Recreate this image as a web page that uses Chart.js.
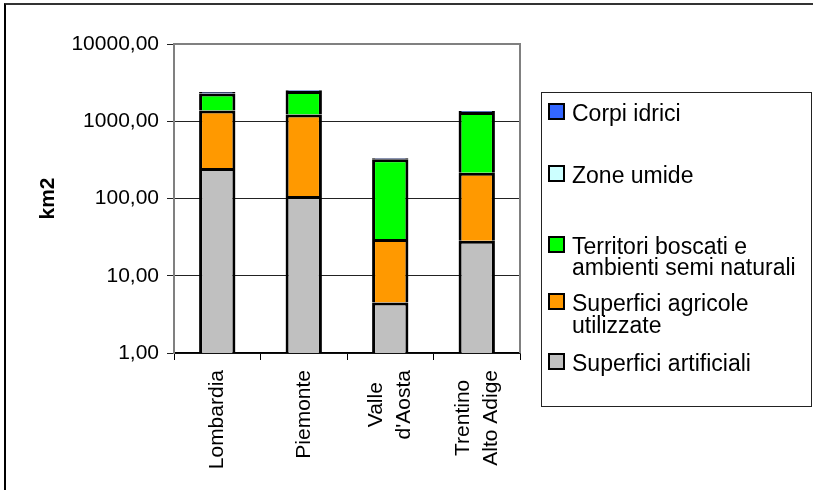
<!DOCTYPE html>
<html>
<head>
<meta charset="utf-8">
<script src="https://cdn.jsdelivr.net/npm/chart.js@4.4.1/dist/chart.umd.min.js"></script>
<style>
  html, body { margin: 0; padding: 0; background: #fff; overflow: hidden; }
  #wrap { position: relative; width: 813px; height: 490px; }
  #frame { position: absolute; left: 4px; top: 3px; width: 900px; height: 600px;
           border-left: 2px solid #000; border-top: 2px solid #333; }
  canvas { position: absolute; left: 0; top: 0; }
</style>
</head>
<body>
<div id="wrap">
  <div id="frame"></div>
  <canvas id="myChart" width="813" height="490"></canvas>
</div>
<script>
const regioni = ["Lombardia", "Piemonte", ["Valle", "d'Aosta"], ["Trentino", "Alto Adige"]];
const serie = [
  ["Superfici artificiali"],
  ["Superfici agricole", "utilizzate"],
  ["Territori boscati e", "ambienti semi naturali"],
  ["Zone umide"],
  ["Corpi idrici"],
];
const superficiArtificiali = [249, 108, 4.5, 28.4];
const superficiAgricole = [1131, 1117, 25.3, 187];
const territoriBoscati = [910, 1245, 293, 1105];
const zoneUmide = [4, 2, 0.5, 1];
const corpiIdrici = [90, 40, 8, 40];
const yTicks = [1, 10, 100, 1000, 10000];

const valori = [superficiArtificiali, superficiAgricole, territoriBoscati, zoneUmide, corpiIdrici];
const colori = ["#C0C0C0", "#FF9900", "#00FF00", "#CCFFFF", "#3366FF"];
const FONT = "'Liberation Sans', Arial, sans-serif";

// legend rows, top to bottom (baselines of each text line)
const legendaY = [[121], [183], [254, 275], [311, 333], [371]];

const plotBorder = {
  id: "plotBorder",
  beforeDatasetsDraw(chart) {
    const a = chart.chartArea;
    const ctx = chart.ctx;
    ctx.save();
    ctx.strokeStyle = "#808080";
    ctx.lineWidth = 2;
    ctx.beginPath();
    ctx.moveTo(a.left, a.top);
    ctx.lineTo(a.right, a.top);
    ctx.lineTo(a.right, a.bottom);
    ctx.stroke();
    ctx.restore();
  },
};

// category labels: rotated, lines centred on the tick, block aligned to the axis
const etichetteX = {
  id: "etichetteX",
  afterDraw(chart) {
    const ctx = chart.ctx;
    const xs = chart.scales.x;
    const top = chart.chartArea.bottom + 17;
    ctx.save();
    ctx.font = "21px " + FONT;
    ctx.fillStyle = "#000";
    ctx.textAlign = "center";
    ctx.textBaseline = "middle";
    regioni.forEach((lab, i) => {
      const righe = Array.isArray(lab) ? lab : [lab];
      const maxW = Math.max(...righe.map((t) => ctx.measureText(t).width));
      const x = xs.getPixelForValue(i);
      righe.forEach((t, j) => {
        ctx.save();
        ctx.translate(x + (j - (righe.length - 1) / 2) * 28, top + maxW / 2);
        ctx.rotate(-Math.PI / 2);
        ctx.fillText(t, 0, 0);
        ctx.restore();
      });
    });
    ctx.restore();
  },
};

const legenda = {
  id: "legenda",
  afterDraw(chart) {
    const ctx = chart.ctx;
    ctx.save();
    ctx.strokeStyle = "#222";
    ctx.lineWidth = 1;
    ctx.strokeRect(541.5, 92.5, 270, 314);
    ctx.font = "23px " + FONT;
    ctx.textBaseline = "alphabetic";
    for (let k = 0; k < serie.length; k++) {
      const i = serie.length - 1 - k;
      const ys = legendaY[k];
      ctx.fillStyle = colori[i];
      ctx.fillRect(549, ys[0] - 17, 15, 15);
      ctx.strokeStyle = "#000";
      ctx.lineWidth = 2;
      ctx.strokeRect(549, ys[0] - 17, 15, 15);
      ctx.fillStyle = "#000";
      serie[i].forEach((t, j) => ctx.fillText(t, 572, ys[j]));
    }
    ctx.restore();
  },
};

const data = {
  labels: regioni.map((l) => (Array.isArray(l) ? l.join(" ") : l)),
  datasets: valori.map((v, i) => ({
    label: serie[i].join(" "),
    data: v,
    backgroundColor: colori[i],
    borderColor: "#000",
    borderWidth: 3,
    borderSkipped: "start",
    inflateAmount: 0,
    barPercentage: 0.42,
    categoryPercentage: 1,
  })),
};

const config = {
  type: "bar",
  data: data,
  plugins: [plotBorder, etichetteX, legenda],
  options: {
    responsive: false,
    animation: false,
    devicePixelRatio: 1,
    layout: { padding: { left: 36, top: 44, right: 293, bottom: 0 } },
    plugins: { legend: { display: false }, tooltip: { enabled: false } },
    scales: {
      x: {
        stacked: true,
        afterFit: (s) => { s.height = 137; },
        ticks: { display: false },
        grid: { offset: true, drawOnChartArea: false, tickLength: 7, color: "#000" },
        border: { color: "#000", width: 1.5 },
      },
      y: {
        type: "logarithmic",
        stacked: true,
        min: 1,
        max: 10000,
        afterBuildTicks: (s) => { s.ticks = yTicks.map((v) => ({ value: v })); },
        afterFit: (s) => { s.width = 138; },
        ticks: {
          padding: 8,
          color: "#000",
          font: { family: FONT, size: 21 },
          callback: (v) => Number(v).toFixed(2).replace(".", ","),
        },
        grid: { color: "#222", lineWidth: 1, tickLength: 7 },
        border: { color: "#808080", width: 2 },
        title: {
          display: true,
          text: "km2",
          color: "#000",
          padding: { top: 0, bottom: 0 },
          font: { family: FONT, size: 21, weight: "bold" },
        },
      },
    },
  },
};
const myChart = new Chart(document.getElementById("myChart"), config);
</script>
</body>
</html>
